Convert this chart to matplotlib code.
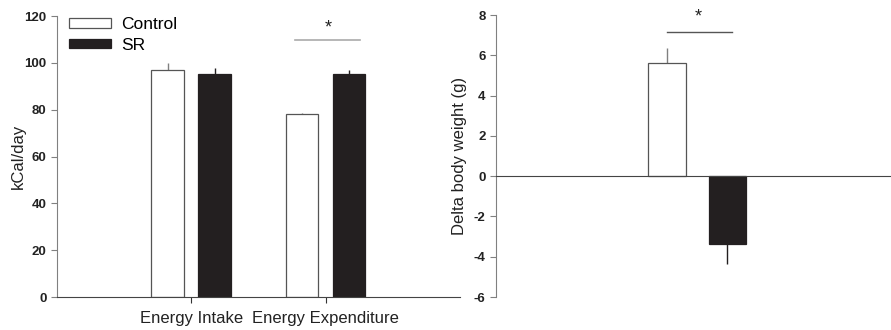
import numpy as np
import matplotlib
matplotlib.use("Agg")
import matplotlib.pyplot as plt

plt.rcParams['font.family'] = ['Liberation Sans', 'DejaVu Sans']
plt.rcParams['axes.unicode_minus'] = False

# Left panel: energy balance
groups = ["Energy Intake", "Energy Expenditure"]
ctrl_kcal = [97.0, 78.1]
ctrl_kcal_err = [2.9, 0.6]
sr_kcal = [95.4, 95.2]
sr_kcal_err = [2.4, 1.6]

# Right panel: body weight change
ctrl_dbw = 5.63
ctrl_dbw_err = 0.75
sr_dbw = -3.38
sr_dbw_err = 1.0

DARK = "#231f20"
GREY = "#808080"

fig = plt.figure(figsize=(8.91, 3.30), dpi=100)
ax1 = fig.add_axes([0.064, 0.100, 0.452, 0.8515])
ax2 = fig.add_axes([0.5567, 0.100, 0.4433, 0.8545])

# ---- left panel
x = np.arange(1, len(groups) + 1)
w = 0.245
off = 0.175
b1 = ax1.bar(x - off, ctrl_kcal, w, color="white", edgecolor="#555555", lw=0.9, zorder=2)
b2 = ax1.bar(x + off, sr_kcal, w, color=DARK, edgecolor=DARK, lw=0.9, zorder=2)
ax1.errorbar(x - off, ctrl_kcal, yerr=[np.zeros(2), ctrl_kcal_err], fmt="none",
             ecolor=GREY, elinewidth=1.0, capsize=0, zorder=1)
ax1.errorbar(x + off, sr_kcal, yerr=[np.zeros(2), sr_kcal_err], fmt="none",
             ecolor=DARK, elinewidth=1.0, capsize=0, zorder=1)

ax1.set_xlim(0, 3)
ax1.set_ylim(0, 120)
ax1.set_yticks(np.arange(0, 121, 20))
ax1.set_xticks(x)
ax1.set_xticklabels(groups, fontsize=12)
ax1.tick_params(axis="x", direction="out", length=4, pad=6, colors="#333333",
                labelcolor="#222222")
ax1.tick_params(axis="y", direction="out", length=4, width=0.8, colors=GREY,
                labelcolor="#222222")
for t in ax1.get_yticklabels():
    t.set_fontweight("bold")
    t.set_fontsize(9.5)
ax1.set_ylabel("kCal/day", fontsize=12, color="#222222", labelpad=-1)
ax1.spines["top"].set_visible(False)
ax1.spines["right"].set_visible(False)
ax1.spines["left"].set_color(GREY)
ax1.spines["bottom"].set_color("#444444")

# significance mark
ax1.plot([1.776, 2.26], [109.7, 109.7], color="#aaaaaa", lw=1.2, clip_on=False)
ax1.text(2.02, 111.2, "*", ha="center", va="bottom", fontsize=13, color="#222222")

ax1.legend([b1, b2], ["Control", "SR"], loc="upper left", bbox_to_anchor=(0.03, 0.995),
           frameon=False, fontsize=12.5, handlelength=2.4, handleheight=0.5,
           handletextpad=0.6, labelspacing=0.3, borderpad=0, borderaxespad=0)

# ---- right panel
ax2.bar([0.433], [ctrl_dbw], 0.096, color="white", edgecolor="#555555", lw=0.9, zorder=2)
ax2.bar([0.586], [sr_dbw], 0.096, color=DARK, edgecolor=DARK, lw=0.9, zorder=2)
ax2.errorbar([0.433], [ctrl_dbw], yerr=[[0], [ctrl_dbw_err]], fmt="none",
             ecolor=GREY, elinewidth=1.0, capsize=0, zorder=1)
ax2.errorbar([0.586], [sr_dbw], yerr=[[sr_dbw_err], [0]], fmt="none",
             ecolor=DARK, elinewidth=1.0, capsize=0, zorder=1)
ax2.set_xlim(0, 1)
ax2.set_ylim(-6, 8)
ax2.set_yticks(np.arange(-6, 9, 2))
ax2.set_xticks([])
ax2.tick_params(axis="y", direction="out", length=4, width=0.8, colors=GREY,
                labelcolor="#222222")
for t in ax2.get_yticklabels():
    t.set_fontweight("bold")
    t.set_fontsize(9.5)
ax2.set_ylabel("Delta body weight (g)", fontsize=12, color="#222222", labelpad=5)
ax2.spines["top"].set_visible(False)
ax2.spines["right"].set_visible(False)
ax2.spines["left"].set_color(GREY)
ax2.spines["bottom"].set_position(("data", 0))
ax2.spines["bottom"].set_color("#444444")

ax2.plot([0.433, 0.598], [7.15, 7.15], color="#555555", lw=1.0, clip_on=False)
ax2.text(0.513, 7.5, "*", ha="center", va="bottom", fontsize=13, color="#222222",
         clip_on=False)

fig.savefig("out.png", dpi=100)
